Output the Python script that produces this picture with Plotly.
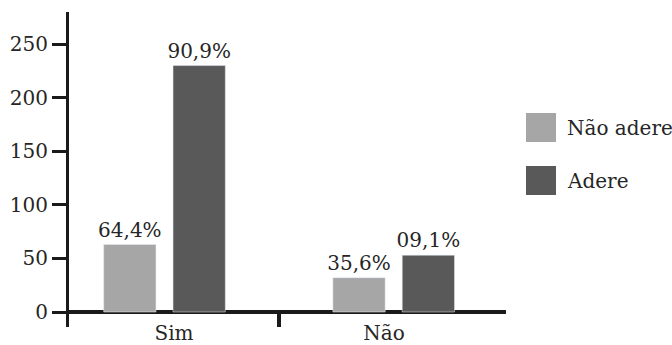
import plotly.graph_objects as go

categories = ["Sim", "Não"]
series_names = ["Não adere", "Adere"]
nao_adere = [63, 32]
adere = [230, 53]
nao_adere_labels = ["64,4%", "35,6%"]
adere_labels = ["90,9%", "09,1%"]
y_ticks = [0, 50, 100, 150, 200, 250]
colors = ["#a6a6a6", "#595959"]

FONT = "DejaVu Serif"
FS = 20
TXT = "#262626"
AX = "#1a1a1a"

W, H = 672, 345
L, R, T, B = 69, 506, 12, 327  # plot area in pixels (axis stub below zero)
pw = R - L
ph = B - T

fig = go.Figure()
for name, vals, labels, col in zip(series_names, [nao_adere, adere],
                                   [nao_adere_labels, adere_labels], colors):
    fig.add_trace(go.Bar(
        x=categories, y=vals, name=name, marker_color=col,
        text=labels, textposition="outside", constraintext="none",
        textfont=dict(family=FONT, size=FS, color=TXT),
        cliponaxis=False, showlegend=False, hoverinfo="skip",
    ))

# category index positions for the label axis
idx = list(range(len(categories)))
fig.add_trace(go.Scatter(x=idx, y=[0] * len(idx), xaxis="x2", yaxis="y",
                         mode="markers", marker=dict(opacity=0),
                         showlegend=False, hoverinfo="skip"))

fig.update_layout(
    width=W, height=H,
    margin=dict(l=L, r=W - R, t=T, b=H - B, pad=0),
    paper_bgcolor="white", plot_bgcolor="rgba(0,0,0,0)",
    barmode="group", bargap=0.395, bargroupgap=0.246,
    font=dict(family=FONT, size=FS, color=TXT),
    showlegend=False,
    xaxis=dict(type="category", range=[-0.4167, 1.49],
               tickson="boundaries", ticks="inside", ticklen=15, tickwidth=4,
               tickcolor=AX, showticklabels=False, showgrid=False,
               showline=False, zeroline=False, fixedrange=True),
    xaxis2=dict(type="linear", overlaying="x", side="bottom", anchor="y",
                range=[-0.5, -0.5 + pw / 210],
                tickmode="array", tickvals=idx, ticktext=categories,
                ticks="", showline=False, showgrid=False, zeroline=False,
                ticklabelstandoff=-8,
                tickfont=dict(family=FONT, size=FS, color=TXT),
                automargin=False, fixedrange=True),
    yaxis=dict(range=[-14, 280], tickvals=y_ticks, showgrid=False,
               showline=True, linewidth=3, linecolor=AX,
               ticks="outside", ticklen=14, tickwidth=3, tickcolor=AX,
               zeroline=True, zerolinecolor=AX, zerolinewidth=4,
               tickfont=dict(family=FONT, size=FS, color=TXT),
               automargin=False, fixedrange=True),
)

def px_x(p):
    return (p - L) / pw

def px_y(p):
    return (B - p) / ph

legend_tops = [113, 166]
for name, col, top in zip(series_names, colors, legend_tops):
    fig.add_shape(type="rect", xref="paper", yref="paper",
                  x0=px_x(526), x1=px_x(556), y0=px_y(top + 29), y1=px_y(top),
                  fillcolor=col, line=dict(width=0))
    fig.add_annotation(xref="paper", yref="paper", x=px_x(565), y=px_y(top + 15),
                       xanchor="left", yanchor="middle", showarrow=False,
                       text=name, font=dict(family=FONT, size=FS, color=TXT))

fig.write_html("out.html")
